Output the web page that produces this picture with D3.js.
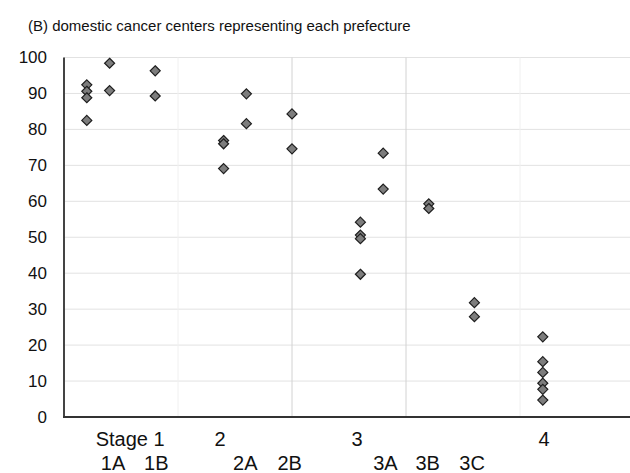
<!DOCTYPE html>
<html><head><meta charset="utf-8">
<script src="https://cdn.jsdelivr.net/npm/d3@7"></script>
<style>body{margin:0;background:#fff}svg{display:block}text{font-family:"Liberation Sans",Arial,sans-serif;fill:#111}</style>
</head><body>
<script>
// Data: x position of each column (axis units) and values
const columnX = [0.2, 0.4, 0.8, 1.4, 1.6, 2.0, 2.6, 2.8, 3.2, 3.6, 4.2];
const columnValues = [
  [92.4, 90.6, 88.8, 82.5],
  [98.4, 90.8],
  [96.3, 89.3],
  [76.9, 76.0, 69.1],
  [89.9, 81.6],
  [84.3, 74.6],
  [54.2, 50.6, 49.6, 39.7],
  [73.4, 63.4],
  [59.3, 58.0],
  [31.8, 27.9],
  [22.3, 15.4, 12.4, 9.4, 7.7, 4.7]
];
const yTicks = [0, 10, 20, 30, 40, 50, 60, 70, 80, 90, 100];
const stageLabels = ["Stage 1", "2", "3", "4"];
const stageLabelX = [0.58, 1.37, 2.57, 4.21];
const subLabels = ["1A", "1B", "2A", "2B", "3A", "3B", "3C"];
const subLabelX = [0.43, 0.81, 1.59, 1.98, 2.82, 3.19, 3.58];
const xGridMajor = [2, 3];
const xGridMinor = [1, 4];
const title = "(B)  domestic cancer centers representing each prefecture";

const W = 630, H = 473;
const svg = d3.select("body").append("svg").attr("width", W).attr("height", H);
const x = d3.scaleLinear().domain([0, 5]).range([64, 634]);
const y = d3.scaleLinear().domain([0, 100]).range([417, 57.5]);

svg.append("text").attr("x", 28).attr("y", 31).style("font-size", "15px").text(title);

// horizontal grid
svg.append("g").selectAll("line").data(yTicks.filter(d => d > 0)).join("line")
  .attr("x1", x(0)).attr("x2", W).attr("y1", d => y(d)).attr("y2", d => y(d))
  .attr("stroke", "#e2e2e2").attr("stroke-width", 1);
// vertical grid
svg.append("g").selectAll("line").data(xGridMinor).join("line")
  .attr("x1", d => x(d)).attr("x2", d => x(d)).attr("y1", y(100)).attr("y2", y(0))
  .attr("stroke", "#f0f0f0").attr("stroke-width", 1);
svg.append("g").selectAll("line").data(xGridMajor).join("line")
  .attr("x1", d => x(d)).attr("x2", d => x(d)).attr("y1", y(100)).attr("y2", y(0))
  .attr("stroke", "#d2d2d2").attr("stroke-width", 1);

// axes lines
svg.append("line").attr("x1", x(0)).attr("x2", x(0)).attr("y1", y(100)).attr("y2", y(0))
  .attr("stroke", "#444").attr("stroke-width", 2);
svg.append("line").attr("x1", x(0) - 1).attr("x2", W).attr("y1", y(0)).attr("y2", y(0))
  .attr("stroke", "#333").attr("stroke-width", 2);

// y tick labels
svg.append("g").selectAll("text").data(yTicks).join("text")
  .attr("x", 47).attr("y", d => y(d)).attr("text-anchor", "end")
  .attr("dominant-baseline", "central").style("font-size", "17px").text(d => d);

// x labels
svg.append("g").selectAll("text").data(stageLabels).join("text")
  .attr("x", (d, i) => x(stageLabelX[i])).attr("y", 446).attr("text-anchor", "middle")
  .style("font-size", "20px").text(d => d);
svg.append("g").selectAll("text").data(subLabels).join("text")
  .attr("x", (d, i) => x(subLabelX[i])).attr("y", 470).attr("text-anchor", "middle")
  .style("font-size", "20px").text(d => d);

// points
const pts = [];
columnX.forEach((cx, i) => columnValues[i].forEach(v => pts.push({cx, v})));
const sym = d3.symbol().type(d3.symbolDiamond2).size(64);
svg.append("g").selectAll("path").data(pts).join("path")
  .attr("d", sym)
  .attr("transform", d => `translate(${x(d.cx)},${y(d.v)})`)
  .attr("fill", "#7d7d7d").attr("stroke", "#1e1e1e").attr("stroke-width", 1.2);
</script>
</body></html>
